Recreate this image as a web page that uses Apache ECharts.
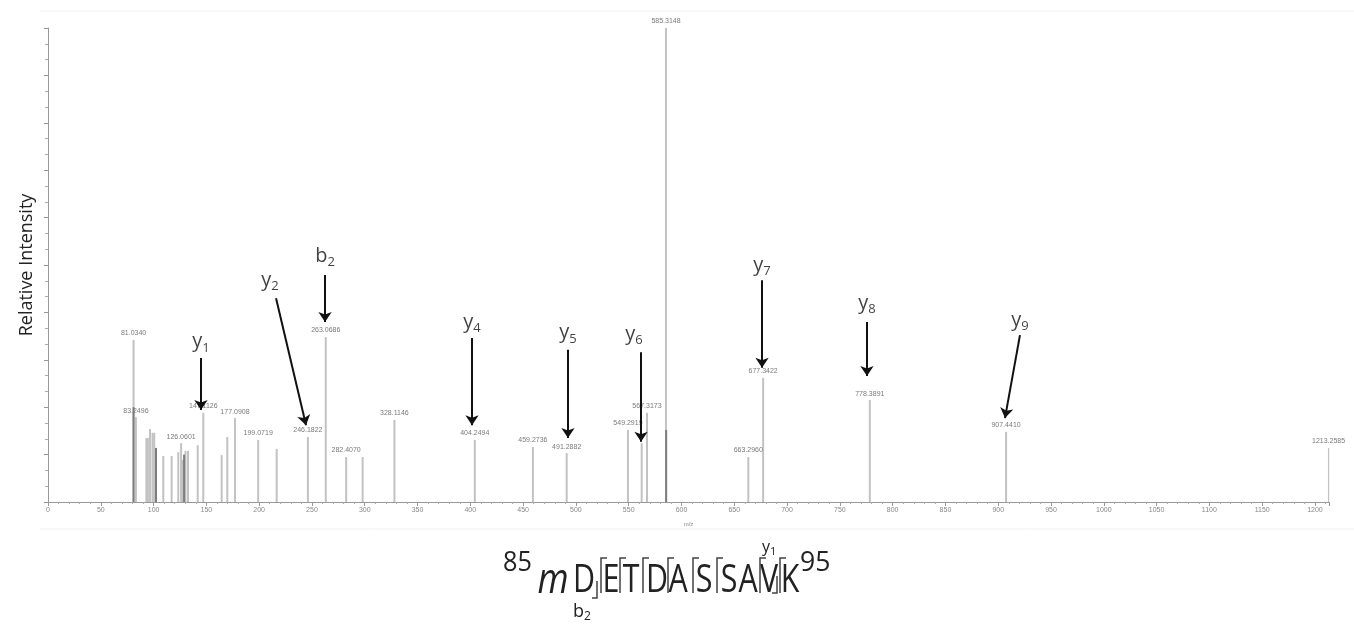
<!DOCTYPE html>
<html><head><meta charset="utf-8">
<script src="https://cdn.jsdelivr.net/npm/echarts@6/dist/echarts.min.js"></script>
<style>html,body{margin:0;padding:0;background:#fff}#c{width:1354px;height:636px}</style>
</head><body><div id="c"></div>
<script>
// ---- data ----
const peakMz = [81.0340, 83.2496, 93.2, 94.6, 96.6, 99.0, 100.6, 102.3, 109.2, 117.1, 123.4, 126.0601, 127.8, 130.2, 132.6, 141.8, 147.1126, 164.5, 169.8, 177.0908, 199.0719, 216.6, 246.1822, 263.0686, 282.4070, 298.0, 328.1146, 404.2494, 459.2736, 491.2882, 549.2919, 562.3, 567.3173, 585.3148, 663.2960, 677.3422, 778.3891, 907.4410, 1213.2585];
const peakIntensity = [34.2, 17.9, 13.5, 13.5, 15.4, 14.6, 14.6, 11.4, 9.7, 9.7, 10.5, 12.4, 8.9, 10.8, 10.8, 12.0, 18.8, 9.9, 13.7, 17.7, 13.1, 11.2, 13.7, 34.8, 9.5, 9.5, 17.3, 13.1, 11.6, 10.3, 15.2, 12.4, 18.8, 100, 9.5, 26.2, 21.5, 14.8, 11.4];
const peakLabels = ['81.0340', '83.2496', '', '', '', '', '', '', '', '', '', '126.0601', '', '', '', '', '147.1126', '', '', '177.0908', '199.0719', '', '246.1822', '263.0686', '282.4070', '', '328.1146', '404.2494', '459.2736', '491.2882', '549.2919', '', '567.3173', '585.3148', '663.2960', '677.3422', '778.3891', '907.4410', '1213.2585'];
const darkMz = [81.0340, 102.3, 128.9, 585.5];
const darkIntensity = [20.0, 11.4, 10.0, 15.2];

// fragment-ion annotations: [letter, subscript]
const annNames = [['y','1'], ['b','2'], ['y','2'], ['y','4'], ['y','5'], ['y','6'], ['y','7'], ['y','8'], ['y','9']];
const annTextPos = [[144.9, 33.8], [262.4, 51.9], [210.3, 46.8], [401.6, 38.0], [492.5, 35.7], [555.0, 35.4], [676.3, 50.0], [775.7, 42.0], [920.6, 38.4]];
const annArrowFrom = [[144.9, 30.4], [262.4, 47.9], [216.0, 43.0], [401.6, 34.6], [492.5, 32.1], [561.7, 31.6], [676.3, 46.8], [775.7, 38.0], [920.6, 35.2]];
const annArrowTo = [[144.9, 19.4], [262.4, 38.0], [244.4, 16.2], [401.6, 16.2], [492.5, 13.5], [561.7, 12.7], [676.3, 28.3], [775.7, 26.6], [906.4, 17.7]];

// peptide sequence
const seqStart = '85';
const seqMod = 'm';
const seqLetters = ['D','E','T','D','A','S','S','A','V','K'];
const seqEnd = '95';

// ---- chart ----
const chart = echarts.init(document.getElementById('c'));
const F = '"Open Sans", "Noto Sans", sans-serif';

// sequence graphics (decoration)
const letterX = [584, 611, 631, 657, 678, 704, 729, 748, 769, 790];
const capMid = 581;
const seqGraphics = [];
seqGraphics.push({type:'text', x: 503, y: 563, scaleX: 0.9, style:{text: seqStart, font: '28px ' + F, fill:'#222', align:'left', verticalAlign:'middle'}});
seqGraphics.push({type:'text', x: 553, y: capMid, scaleX: 0.85, style:{text: seqMod, font: 'italic 42px ' + F, fill:'#222', align:'center', verticalAlign:'middle'}});
seqLetters.forEach((L, i) => {
  seqGraphics.push({type:'text', x: letterX[i], y: capMid, scaleX: 0.8, style:{text: L, font: '38px ' + F, fill:'#222', align:'center', verticalAlign:'middle'}});
});
seqGraphics.push({type:'text', x: 800, y: 563, scaleX: 0.95, style:{text: seqEnd, font: '28px ' + F, fill:'#222', align:'left', verticalAlign:'middle'}});
const upBr = [601, 620, 643, 668, 693, 717, 760, 780];
upBr.forEach(x => seqGraphics.push({type:'polyline', shape:{points:[[x+6,558],[x,558],[x,593]]}, style:{stroke:'#444', lineWidth:1.5, fill:null}}));
seqGraphics.push({type:'polyline', shape:{points:[[597,581],[597,598],[592,598]]}, style:{stroke:'#444', lineWidth:1.5, fill:null}});
seqGraphics.push({type:'polyline', shape:{points:[[777,576],[777,593],[772,593]]}, style:{stroke:'#444', lineWidth:1.5, fill:null}});
seqGraphics.push({type:'text', left: 573, top: 603, style:{rich:{m:{fontSize:18, fontFamily:F, fill:'#222', lineHeight:22}, s:{fontSize:12, fontFamily:F, fill:'#222', lineHeight:12, verticalAlign:'bottom'}}, text:'{m|b}{s|2}'}});
seqGraphics.push({type:'text', left: 762, top: 539, style:{rich:{m:{fontSize:16, fontFamily:F, fill:'#222', lineHeight:20}, s:{fontSize:11, fontFamily:F, fill:'#222', lineHeight:11, verticalAlign:'bottom'}}, text:'{m|y}{s|1}'}});

const option = {
  animation: false,
  backgroundColor: '#fff',
  grid: {left: 48, right: 25, top: 28, bottom: 134, containLabel: false},
  xAxis: {
    type: 'value', min: 0, max: 1213.3, interval: 50,
    name: 'm/z', nameLocation: 'middle', nameGap: 19,
    nameTextStyle: {fontSize: 6, color: '#888', fontFamily: 'Liberation Sans'},
    axisLine: {lineStyle: {color: '#999'}},
    axisTick: {length: 4, lineStyle: {color: '#999'}},
    minorTick: {show: true, splitNumber: 5, length: 2, lineStyle: {color: '#aaa'}},
    axisLabel: {fontSize: 7, color: '#888', margin: 5, showMaxLabel: false, fontFamily: 'Liberation Sans', formatter: v => String(v)},
    splitLine: {show: false}
  },
  yAxis: {
    type: 'value', min: 0, max: 100, interval: 10,
    name: 'Relative Intensity', nameLocation: 'middle', nameGap: 12,
    nameTextStyle: {fontSize: 18, color: '#222', fontFamily: F},
    axisLine: {show: true, lineStyle: {color: '#999'}},
    axisTick: {show: true, length: 4, lineStyle: {color: '#999'}},
    minorTick: {show: true, splitNumber: 3, length: 3, lineStyle: {color: '#aaa'}},
    axisLabel: {show: false},
    splitLine: {show: false}
  },
  series: [
    {
      type: 'bar', barWidth: 2, barGap: '-100%',
      data: peakMz.map((m, i) => [m, peakIntensity[i]]),
      itemStyle: {color: '#c2c2c2'},
      label: {show: true, position: 'top', distance: 3, fontSize: 7, color: '#7a7a7a', fontFamily: 'Liberation Sans',
        formatter: p => peakLabels[p.dataIndex]}
    },
    {
      type: 'bar', barWidth: 2, barGap: '-100%',
      data: darkMz.map((m, i) => [m, darkIntensity[i]]),
      itemStyle: {color: '#7d7d7d'}
    },
    {
      type: 'scatter', symbolSize: 1, itemStyle: {color: 'rgba(0,0,0,0)'},
      data: annTextPos.map((p, i) => [p[0], p[1], i]),
      label: {show: true, position: 'inside', color: '#111',
        formatter: p => '{m|' + annNames[p.data[2]][0] + '}{s|' + annNames[p.data[2]][1] + '}',
        rich: {m: {fontSize: 20, fontFamily: F, color: '#111', lineHeight: 26}, s: {fontSize: 13, fontFamily: F, color: '#111', lineHeight: 14, verticalAlign: 'bottom'}}},
      markLine: {
        silent: true, symbol: ['none', 'arrow'], symbolSize: 10,
        lineStyle: {color: '#111', width: 2, type: 'solid'},
        label: {show: false},
        data: annArrowFrom.map((p, i) => [{coord: p}, {coord: annArrowTo[i]}])
      }
    }
  ],
  graphic: [
    {type: 'line', shape: {x1: 40, y1: 11, x2: 1354, y2: 11}, style: {stroke: '#eef1f6', lineWidth: 1}},
    {type: 'line', shape: {x1: 40, y1: 529, x2: 1354, y2: 529}, style: {stroke: '#eef1f6', lineWidth: 1}}
  ].concat(seqGraphics)
};
chart.setOption(option);
</script>
</body></html>
